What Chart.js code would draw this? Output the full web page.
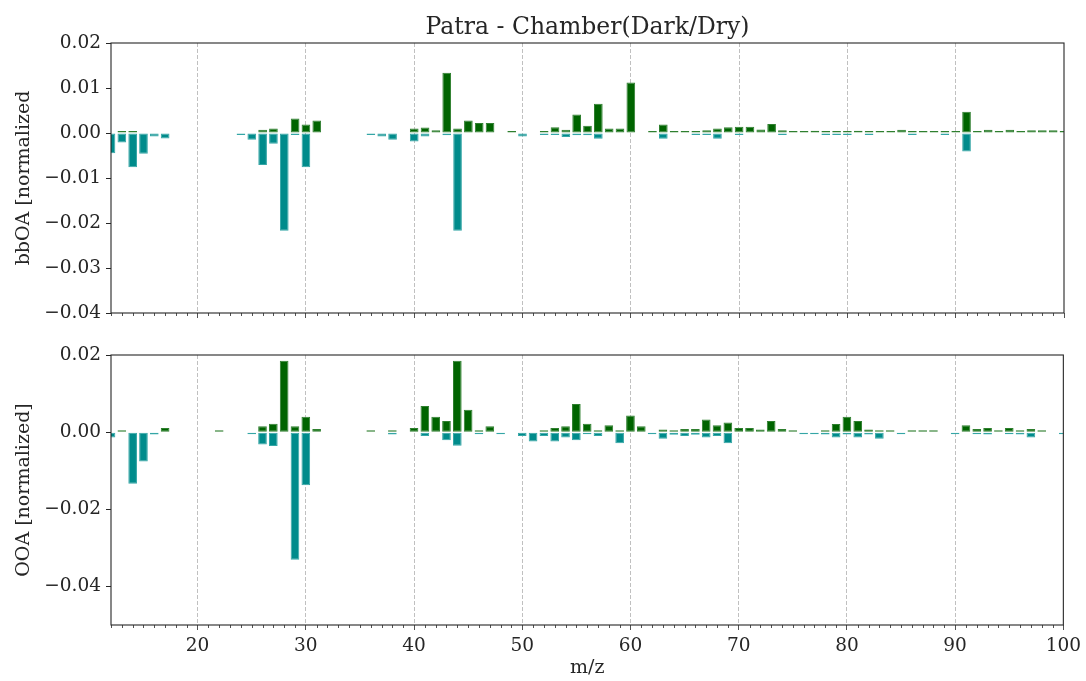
<!DOCTYPE html>
<html>
<head>
<meta charset="utf-8">
<script src="https://cdn.jsdelivr.net/npm/chart.js@4/dist/chart.umd.min.js"></script>
<style>
  body { margin: 0; background: #fff; }
  #wrap { position: relative; width: 1086px; height: 681px; }
  .panel { position: absolute; left: 0; width: 1086px; }
  #topPanel { top: 0; height: 330px; }
  #bottomPanel { top: 330px; height: 351px; }
</style>
</head>
<body>
<div id="wrap">
  <div class="panel" id="topPanel"><canvas id="bbChart"></canvas></div>
  <div class="panel" id="bottomPanel"><canvas id="ooaChart"></canvas></div>
</div>
<script>
/* ===== datos: m/z 12..100 ===== */
const mz = [
  12, 13, 14, 15, 16, 17, 18, 19, 20, 21,
  22, 23, 24, 25, 26, 27, 28, 29, 30, 31,
  32, 33, 34, 35, 36, 37, 38, 39, 40, 41,
  42, 43, 44, 45, 46, 47, 48, 49, 50, 51,
  52, 53, 54, 55, 56, 57, 58, 59, 60, 61,
  62, 63, 64, 65, 66, 67, 68, 69, 70, 71,
  72, 73, 74, 75, 76, 77, 78, 79, 80, 81,
  82, 83, 84, 85, 86, 87, 88, 89, 90, 91,
  92, 93, 94, 95, 96, 97, 98, 99, 100
];

// bbOA - parte positiva (verde)
const bbOAGreen = [
  null, 0.0003, 0.0003, null, null, null, null, null, null, null,
  null, null, null, null, 0.0007, 0.001, null, 0.0032, 0.0019, 0.0028,
  null, null, null, null, null, null, null, null, 0.001, 0.0012,
  0.0006, 0.0134, 0.001, 0.0028, 0.0022, 0.0022, null, 0.0001, null, null,
  0.0004, 0.0013, 0.0007, 0.0041, 0.0016, 0.0065, 0.001, 0.001, 0.0112, null,
  0.0001, 0.0019, 0.0001, 0.0001, 0.0001, 0.0006, 0.001, 0.0013, 0.0014, 0.0014,
  0.0008, 0.002, 0.0006, 0.0001, 0.0001, 0.0005, 0.0001, 0.0001, 0.0002, 0.0005,
  0.0004, 0.0004, 0.0004, 0.0007, 0.0001, 0.0004, 0.0001, 0.0004, 0.0001, 0.0047,
  0.0001, 0.0007, 0.0001, 0.0007, 0.0001, 0.0006, 0.0006, 0.0006, 0.0004
];

// bbOA - parte negativa (cian)
const bbOATeal = [
  -0.0045, -0.0021, -0.0076, -0.0046, -0.0008, -0.0012, null, null, null, null,
  null, null, -0.0002, -0.0015, -0.0071, -0.0024, -0.0217, -0.0002, -0.0076, null,
  null, null, null, null, -0.0002, -0.0008, -0.0015, null, -0.0019, -0.0008,
  null, -0.0005, -0.0217, null, null, null, null, null, -0.0008, null,
  -0.0002, -0.0002, -0.0009, -0.0005, -0.0005, -0.0013, null, null, null, null,
  null, -0.0013, null, null, -0.0002, -0.0002, -0.0013, null, -0.0002, null,
  null, null, -0.0004, null, null, null, -0.0004, -0.0004, -0.0004, null,
  -0.0004, null, null, null, -0.0004, null, null, -0.0004, null, -0.0041,
  null, null, null, null, null, null, null, null, null
];

// OOA - parte positiva (verde)
const ooaGreen = [
  null, 0.0005, null, null, null, 0.0011, null, null, null, null,
  0.0002, null, null, null, 0.0015, 0.0022, 0.0185, 0.0015, 0.004, 0.0008,
  null, null, null, null, 0.0002, null, 0.0004, null, 0.0011, 0.0068,
  0.004, 0.0029, 0.0185, 0.0058, 0.0003, 0.0015, null, null, null, null,
  0.0004, 0.0011, 0.0015, 0.0073, 0.0022, 0.0004, 0.0018, 0.0004, 0.0043, 0.0015,
  null, 0.0007, 0.0002, 0.0008, 0.0008, 0.0033, 0.0018, 0.0025, 0.0011, 0.0011,
  0.0007, 0.0029, 0.0008, 0.0002, null, null, 0.0001, 0.0021, 0.004, 0.0029,
  0.0007, 0.0003, 0.0003, null, 0.0002, 0.0002, 0.0002, null, null, 0.0018,
  0.0008, 0.0011, 0.0002, 0.0011, 0.0004, 0.0008, 0.0002, null, null
];

// OOA - parte negativa (cian)
const ooaTeal = [
  -0.0014, null, -0.0134, -0.0076, -0.0006, null, null, null, null, null,
  null, null, null, -0.0002, -0.0032, -0.0036, null, -0.0331, -0.0138, null,
  null, null, null, null, null, null, -0.0006, null, null, -0.001,
  null, -0.0021, -0.0035, null, -0.0003, null, -0.0002, null, -0.001, -0.0024,
  -0.001, -0.0024, -0.0014, -0.0021, -0.0003, -0.001, null, -0.0029, null, null,
  -0.0002, -0.0017, -0.0007, -0.001, -0.0007, -0.0014, -0.001, -0.0029, null, null,
  null, null, null, null, -0.0002, -0.0002, -0.0006, -0.0014, -0.0006, -0.0014,
  -0.0006, -0.0017, null, -0.0002, null, null, null, null, -0.0002, null,
  -0.0003, -0.0006, null, -0.0003, -0.0006, -0.0014, null, null, -0.0002
];

const xMin = 12;
const xMax = 100;
const chartTitle = "Patra - Chamber(Dark/Dry)";

/* ===== estilo ===== */
const FONT = "'DejaVu Serif', serif";
const TEXT = "#262626";
const GREEN = "#006400";
const GREEN_EDGE = "#2f7f2f";
const TEAL = "#008b8b";
const TEAL_EDGE = "#35a6a6";

Chart.defaults.font.family = FONT;
Chart.defaults.color = TEXT;

// marco completo, ticks menores del eje x y título centrado en el área
const framePlugin = {
    id: "frame",
    afterDraw(chart, args, pluginOpts) {
        const { ctx, chartArea: a } = chart;
        const xs = chart.scales.x;
        ctx.save();
        ctx.strokeStyle = TEXT;
        ctx.lineWidth = 1.1;
        ctx.strokeRect(a.left, a.top, a.right - a.left, a.bottom - a.top);
        ctx.beginPath();
        ctx.lineWidth = 0.8;
        xs.ticks.forEach((t) => {
            if (t.value % 10 !== 0) {
                const px = Math.round(xs.getPixelForValue(t.value)) + 0.5;
                ctx.moveTo(px, a.bottom);
                ctx.lineTo(px, a.bottom + 3);
            }
        });
        ctx.stroke();
        if (pluginOpts && pluginOpts.text) {
            ctx.fillStyle = TEXT;
            ctx.font = "23.5px " + FONT;
            ctx.textAlign = "center";
            ctx.textBaseline = "alphabetic";
            ctx.fillText(pluginOpts.text, (a.left + a.right) / 2, 34);
        }
        ctx.restore();
    },
};

function points(values) {
    return mz.map((m, i) => ({ x: m, y: values[i] }));
}

function fmt(v) {
    if (Math.abs(v) < 1e-9) return "0.00";
    return (v < 0 ? "\u2212" : "") + Math.abs(v).toFixed(2);
}

function barSet(values, fill, edge) {
    return {
        data: points(values),
        backgroundColor: fill,
        borderColor: edge,
        borderWidth: 1,
        borderSkipped: false,
        minBarLength: 2,
        grouped: false,
        barPercentage: 0.8,
        categoryPercentage: 1,
    };
}

function buildPanel(canvasId, opts) {
    const ctx = document.getElementById(canvasId).getContext("2d");
    return new Chart(ctx, {
        type: "bar",
        data: {
            datasets: [
                barSet(opts.green, GREEN, GREEN_EDGE),
                barSet(opts.teal, TEAL, TEAL_EDGE),
            ],
        },
        options: {
            responsive: true,
            maintainAspectRatio: false,
            animation: false,
            layout: {
                padding: { left: 0, right: 22, top: opts.padTop, bottom: 0 },
            },
            plugins: {
                legend: { display: false },
                tooltip: { enabled: false },
                frame: { text: opts.title || "" },
            },
            scales: {
                x: {
                    type: "linear",
                    min: xMin,
                    max: xMax,
                    offset: false,
                    afterFit: (s) => {
                        s.height = opts.xHeight;
                    },
                    ticks: {
                        stepSize: 1,
                        autoSkip: false,
                        maxRotation: 0,
                        padding: 5,
                        font: { size: 18.5 },
                        callback: (v) =>
                            opts.xLabels && v % 10 === 0 ? String(v) : "",
                    },
                    grid: {
                        offset: false,
                        drawOnChartArea: true,
                        color: (c) =>
                            c.tick && c.tick.value % 10 === 0 && c.tick.value !== xMax
                                ? "#b0b0b0"
                                : "rgba(0,0,0,0)",
                        lineWidth: 0.8,
                        tickLength: 5,
                        tickColor: (c) =>
                            c.tick && c.tick.value % 10 === 0 ? TEXT : "rgba(0,0,0,0)",
                    },
                    border: { display: false, dash: [4, 2] },
                    title: {
                        display: !!opts.xTitle,
                        text: opts.xTitle || "",
                        color: TEXT,
                        font: { size: 19 },
                        padding: { top: 0, bottom: 2 },
                    },
                },
                y: {
                    min: opts.yMin,
                    max: opts.yMax,
                    afterFit: (s) => {
                        s.width = 111;
                    },
                    afterBuildTicks: (s) => {
                        s.ticks = s.ticks.filter((t) => {
                            const k = t.value / opts.yStep;
                            return Math.abs(k - Math.round(k)) < 1e-6;
                        });
                    },
                    ticks: {
                        stepSize: opts.yStep,
                        padding: 5,
                        font: { size: 18.5 },
                        callback: (v) => fmt(v),
                    },
                    grid: {
                        drawOnChartArea: false,
                        tickLength: 5,
                        tickColor: TEXT,
                    },
                    border: { display: false },
                    title: {
                        display: true,
                        text: opts.yTitle,
                        color: TEXT,
                        font: { size: 19 },
                        padding: { top: 13, bottom: 0 },
                    },
                },
            },
        },
        plugins: [framePlugin],
    });
}

/* ===== paneles ===== */
buildPanel("bbChart", {
    green: bbOAGreen,
    teal: bbOATeal,
    yMin: -0.04,
    yMax: 0.02,
    yStep: 0.01,
    yTitle: "bbOA [normalized",
    title: chartTitle,
    padTop: 43,
    xHeight: 17,
    xLabels: false,
});

buildPanel("ooaChart", {
    green: ooaGreen,
    teal: ooaTeal,
    yMin: -0.05,
    yMax: 0.02,
    yStep: 0.02,
    yTitle: "OOA [normalized]",
    padTop: 25,
    xHeight: 56,
    xLabels: true,
    xTitle: "m/z",
});
</script>
</body>
</html>
